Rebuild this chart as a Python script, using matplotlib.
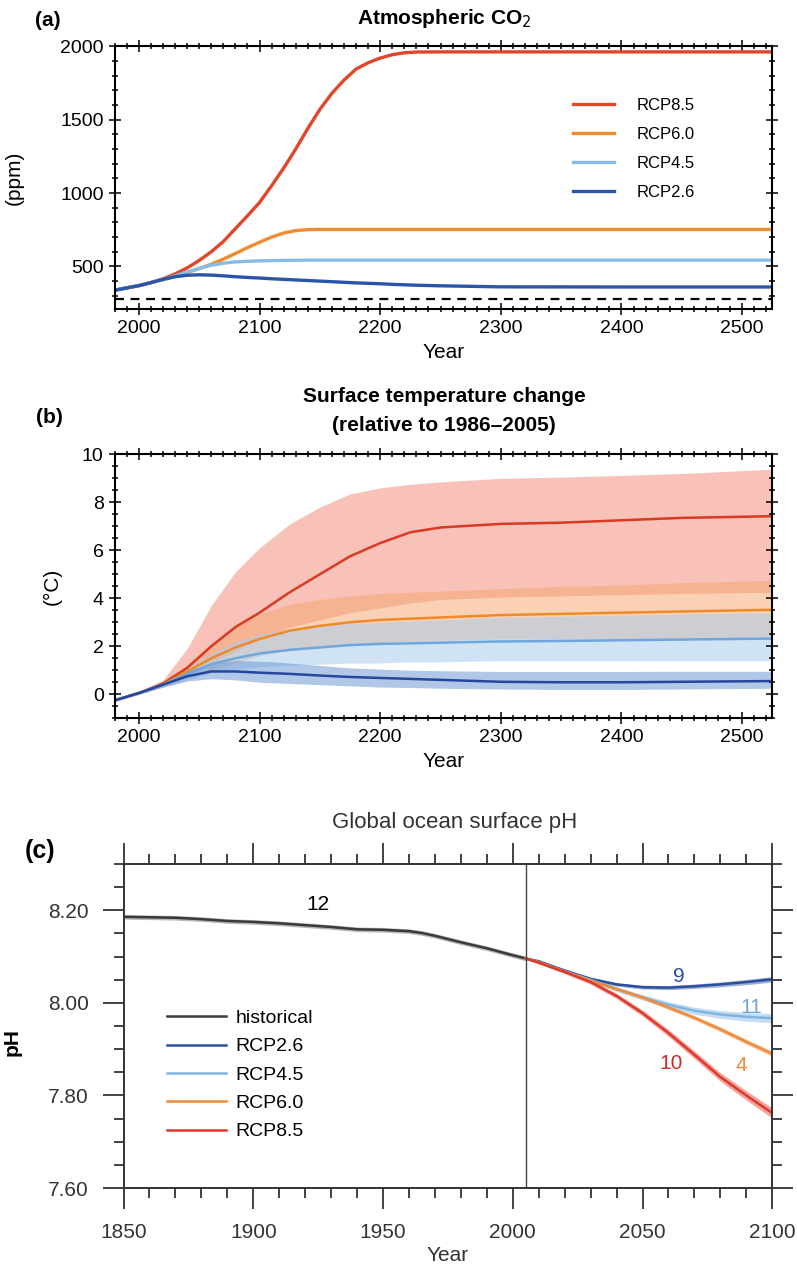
import numpy as np
import matplotlib
matplotlib.use('Agg')
import matplotlib.pyplot as plt
from matplotlib.ticker import MultipleLocator, FormatStrFormatter

font = ['Liberation Sans', 'DejaVu Sans']

# panel (a) atmospheric CO2 (ppm)
co2_years = [1980, 1990, 2000, 2010, 2020, 2030, 2040, 2050, 2060, 2070, 2080, 2090, 2100, 2110, 2120, 2130,
             2140, 2150, 2160, 2170, 2180, 2190, 2200, 2210, 2220, 2230, 2250, 2300, 2400, 2525]
co2_rcp85 = [338, 354, 369, 390, 415, 449, 490, 541, 600, 670, 758, 845, 936, 1050, 1170, 1300,
             1440, 1570, 1680, 1770, 1845, 1888, 1920, 1943, 1956, 1961, 1962, 1962, 1962, 1962]
co2_rcp60 = [338, 354, 369, 390, 410, 432, 458, 485, 515, 550, 588, 628, 665, 700, 728, 744,
             751, 752, 752, 752, 752, 752, 752, 752, 752, 752, 752, 752, 752, 752]
co2_rcp45 = [338, 354, 369, 390, 410, 435, 462, 487, 508, 522, 531, 535, 538, 540, 541, 542,
             543, 543, 543, 543, 543, 543, 543, 543, 543, 543, 543, 543, 543, 543]
co2_rcp26 = [338, 354, 369, 390, 412, 430, 440, 443, 441, 436, 430, 425, 421, 416, 412, 408,
             404, 400, 396, 392, 388, 385, 382, 378, 375, 372, 368, 361, 360, 360]
co2_preind = 280

# panel (b) surface temperature change (degC), median and 5-95% range
t_years = [1980, 2000, 2020, 2040, 2060, 2080, 2100, 2125, 2150, 2175, 2200, 2225, 2250, 2300, 2350, 2400, 2450, 2525]
t85 = [-0.25, 0.05, 0.45, 1.1, 2.0, 2.8, 3.4, 4.25, 5.0, 5.75, 6.3, 6.75, 6.95, 7.1, 7.15, 7.25, 7.35, 7.42]
t85_hi = [-0.2, 0.1, 0.6, 1.9, 3.7, 5.1, 6.1, 7.1, 7.8, 8.35, 8.6, 8.75, 8.85, 9.0, 9.05, 9.12, 9.2, 9.38]
t85_lo = [-0.3, 0.0, 0.35, 0.8, 1.3, 1.8, 2.3, 2.8, 3.1, 3.4, 3.6, 3.8, 3.95, 4.05, 4.1, 4.15, 4.2, 4.25]
t60 = [-0.25, 0.05, 0.4, 0.95, 1.5, 1.95, 2.3, 2.65, 2.85, 3.0, 3.1, 3.15, 3.2, 3.3, 3.35, 3.4, 3.45, 3.52]
t60_hi = [-0.2, 0.1, 0.5, 1.2, 2.1, 2.9, 3.35, 3.75, 3.95, 4.1, 4.2, 4.25, 4.3, 4.4, 4.5, 4.55, 4.65, 4.75]
t60_lo = [-0.3, 0.0, 0.3, 0.7, 1.0, 1.3, 1.6, 1.85, 2.0, 2.1, 2.15, 2.2, 2.25, 2.3, 2.3, 2.3, 2.3, 2.3]
t45 = [-0.25, 0.05, 0.4, 0.85, 1.25, 1.5, 1.7, 1.85, 1.95, 2.05, 2.1, 2.12, 2.15, 2.2, 2.22, 2.25, 2.28, 2.32]
t45_hi = [-0.2, 0.1, 0.5, 1.1, 1.7, 2.2, 2.5, 2.7, 2.85, 2.95, 3.0, 3.05, 3.1, 3.2, 3.25, 3.3, 3.35, 3.4]
t45_lo = [-0.3, 0.0, 0.3, 0.6, 0.9, 1.05, 1.15, 1.2, 1.25, 1.3, 1.3, 1.35, 1.35, 1.4, 1.4, 1.4, 1.4, 1.4]
t26 = [-0.25, 0.05, 0.4, 0.75, 0.95, 0.95, 0.9, 0.85, 0.78, 0.72, 0.68, 0.64, 0.6, 0.52, 0.5, 0.5, 0.52, 0.55]
t26_hi = [-0.2, 0.1, 0.5, 0.95, 1.3, 1.4, 1.38, 1.3, 1.2, 1.1, 1.05, 1.0, 0.98, 0.95, 0.95, 0.95, 0.96, 0.96]
t26_lo = [-0.3, 0.0, 0.3, 0.55, 0.65, 0.6, 0.5, 0.45, 0.4, 0.35, 0.3, 0.28, 0.25, 0.22, 0.2, 0.2, 0.22, 0.25]

# panel (c) ocean surface pH
hist_years = [1850, 1860, 1870, 1880, 1890, 1900, 1910, 1920, 1930, 1940, 1950, 1960, 1965, 1970, 1980, 1990, 2000, 2005]
ph_hist = [8.186, 8.185, 8.184, 8.181, 8.177, 8.175, 8.172, 8.168, 8.164, 8.159, 8.158, 8.155, 8.151, 8.145, 8.131, 8.118, 8.103, 8.096]
fut_years = [2005, 2010, 2020, 2030, 2040, 2050, 2060, 2070, 2080, 2090, 2100]
ph26 = [8.096, 8.090, 8.070, 8.052, 8.040, 8.034, 8.033, 8.036, 8.040, 8.045, 8.051]
ph45 = [8.096, 8.088, 8.068, 8.050, 8.030, 8.012, 7.996, 7.983, 7.975, 7.970, 7.967]
ph60 = [8.096, 8.088, 8.068, 8.048, 8.030, 8.012, 7.990, 7.968, 7.943, 7.916, 7.890]
ph85 = [8.096, 8.087, 8.067, 8.045, 8.015, 7.978, 7.935, 7.888, 7.840, 7.800, 7.762]
model_counts = {'historical': 12, 'RCP2.6': 9, 'RCP4.5': 11, 'RCP6.0': 4, 'RCP8.5': 10}

c85, c60, c45, c26 = '#e2452a', '#f28b30', '#85bde8', '#2b55a8'

fig = plt.figure(figsize=(7.97, 12.69), dpi=100)


def style_ab(ax):
    ax.set_xlim(1980, 2525)
    ax.xaxis.set_major_locator(MultipleLocator(100))
    ax.xaxis.set_minor_locator(MultipleLocator(10))
    ax.tick_params(which='both', direction='inout', top=True, right=True, width=1.1)
    ax.tick_params(which='major', length=9, labelsize=14)
    ax.tick_params(which='minor', length=5)
    for s in ax.spines.values():
        s.set_linewidth(1.5)
    for lab in ax.get_xticklabels() + ax.get_yticklabels():
        lab.set_family(font)
    ax.set_xlabel('Year', family=font, fontsize=15, labelpad=4)


# (a)
ax1 = fig.add_axes([0.144, 0.7565, 0.825, 0.207])
ax1.plot(co2_years, co2_rcp85, color=c85, lw=2.4, label='RCP8.5')
ax1.plot(co2_years, co2_rcp60, color=c60, lw=2.4, label='RCP6.0')
ax1.plot(co2_years, co2_rcp45, color=c45, lw=2.4, label='RCP4.5')
ax1.plot(co2_years, co2_rcp26, color=c26, lw=2.4, label='RCP2.6')
ax1.axhline(co2_preind, color='black', lw=1.6, ls=(0, (4, 3)))
ax1.set_ylim(210, 2000)
ax1.yaxis.set_major_locator(MultipleLocator(500))
ax1.yaxis.set_minor_locator(MultipleLocator(100))
style_ab(ax1)
ax1.set_ylabel('(ppm)', family=font, fontsize=15)
ax1.yaxis.set_label_coords(-0.138, 0.5)
ax1.legend(loc='upper left', bbox_to_anchor=(0.674, 0.86), frameon=False,
           handlelength=2.45, labelspacing=0.84, handletextpad=1.4,
           prop={'family': font, 'size': 12})
fig.text(0.557, 0.9855, 'Atmospheric CO$_2$', ha='center', va='center',
         family=font, fontsize=15, fontweight='bold')
fig.text(0.044, 0.9835, '(a)', ha='left', va='center', family=font, fontsize=15, fontweight='bold')

# (b)
ax2 = fig.add_axes([0.144, 0.434, 0.825, 0.208])
ax2.fill_between(t_years, t85_lo, t85_hi, color='#f5a294', alpha=0.65, lw=0)
ax2.fill_between(t_years, t60_lo, t60_hi, color='#f6a56c', alpha=0.5, lw=0)
ax2.fill_between(t_years, t45_lo, t45_hi, color='#a9cdee', alpha=0.55, lw=0)
ax2.fill_between(t_years, t26_lo, t26_hi, color='#6f9ad6', alpha=0.55, lw=0)
ax2.plot(t_years, t85, color='#d93a22', lw=1.8)
ax2.plot(t_years, t60, color='#ee8a2a', lw=1.8)
ax2.plot(t_years, t45, color='#6ea7dd', lw=1.8)
ax2.plot(t_years, t26, color='#24479b', lw=1.8)
ax2.set_ylim(-1, 10)
ax2.yaxis.set_major_locator(MultipleLocator(2))
ax2.yaxis.set_minor_locator(MultipleLocator(0.5))
style_ab(ax2)
ax2.set_ylabel('(°C)', family=font, fontsize=15)
ax2.yaxis.set_label_coords(-0.081, 0.5)
fig.text(0.557, 0.676, 'Surface temperature change\n(relative to 1986–2005)', ha='center', va='center',
         family=font, fontsize=15, fontweight='bold', linespacing=1.7)
fig.text(0.045, 0.671, '(b)', ha='left', va='center', family=font, fontsize=15, fontweight='bold')

# (c)
ax3 = fig.add_axes([0.155, 0.0638, 0.814, 0.2553])
ax3.fill_between(hist_years, np.array(ph_hist) - 0.005, np.array(ph_hist) + 0.005, color='#888888', alpha=0.6, lw=0)
ax3.plot(hist_years, ph_hist, color='#3a3a3a', lw=1.8, label='historical')
bands = [(ph26, '#2b4f9e', 0.006, 'RCP2.6'), (ph45, '#7fb4e3', 0.01, 'RCP4.5'),
         (ph60, '#ef8b3a', 0.006, 'RCP6.0'), (ph85, '#e0392b', 0.011, 'RCP8.5')]
for vals, col, w, lab in bands:
    v = np.array(vals)
    spread = np.linspace(0.002, w, len(v))
    ax3.fill_between(fut_years, v - spread, v + spread, color=col, alpha=0.45, lw=0)
for vals, col, w, lab in bands:
    ax3.plot(fut_years, vals, color=col, lw=1.8, label=lab)
ax3.axvline(2005, color='#444444', lw=1.0)
ax3.set_xlim(1850, 2100)
ax3.set_ylim(7.6, 8.3)
ax3.xaxis.set_major_locator(MultipleLocator(50))
ax3.xaxis.set_minor_locator(MultipleLocator(10))
ax3.yaxis.set_major_locator(MultipleLocator(0.2))
ax3.yaxis.set_minor_locator(MultipleLocator(0.05))
ax3.yaxis.set_major_formatter(FormatStrFormatter('%.2f'))
ax3.tick_params(which='both', direction='out', top=True, right=True, width=1.3, color='#333333')
ax3.tick_params(which='major', length=15, labelsize=15, pad=10)
ax3.tick_params(which='minor', length=7)
for s in ax3.spines.values():
    s.set_linewidth(1.4)
    s.set_color('#333333')
for lab in ax3.get_xticklabels() + ax3.get_yticklabels():
    lab.set_family(font)
    lab.set_color('#333333')
ax3.set_xlabel('Year', family=font, fontsize=15, labelpad=3, color='#333333')
ax3.set_ylabel('pH', family=font, fontsize=15, fontweight='bold')
ax3.yaxis.set_label_coords(-0.157, 0.45)
ax3.legend(loc='upper left', bbox_to_anchor=(0.04, 0.605), frameon=False,
           handlelength=3.05, labelspacing=0.55, handletextpad=0.46,
           prop={'family': font, 'size': 14})
ax3.text(1925, 8.212, str(model_counts['historical']), ha='center', va='center', fontsize=15, color='black', family=font)
ax3.text(2064, 8.058, str(model_counts['RCP2.6']), ha='center', va='center', fontsize=15, color='#2b4f9e', family=font)
ax3.text(2092, 7.99, str(model_counts['RCP4.5']), ha='center', va='center', fontsize=15, color='#6fa6da', family=font)
ax3.text(2061, 7.87, str(model_counts['RCP8.5']), ha='center', va='center', fontsize=15, color='#d02a24', family=font)
ax3.text(2088, 7.865, str(model_counts['RCP6.0']), ha='center', va='center', fontsize=15, color='#ef8b3a', family=font)
fig.text(0.571, 0.3515, 'Global ocean surface pH', ha='center', va='center', family=font, fontsize=16, color='#333333')
fig.text(0.031, 0.3295, '(c)', ha='left', va='center', family=font, fontsize=18, fontweight='bold')

fig.savefig('out.png', dpi=100)
